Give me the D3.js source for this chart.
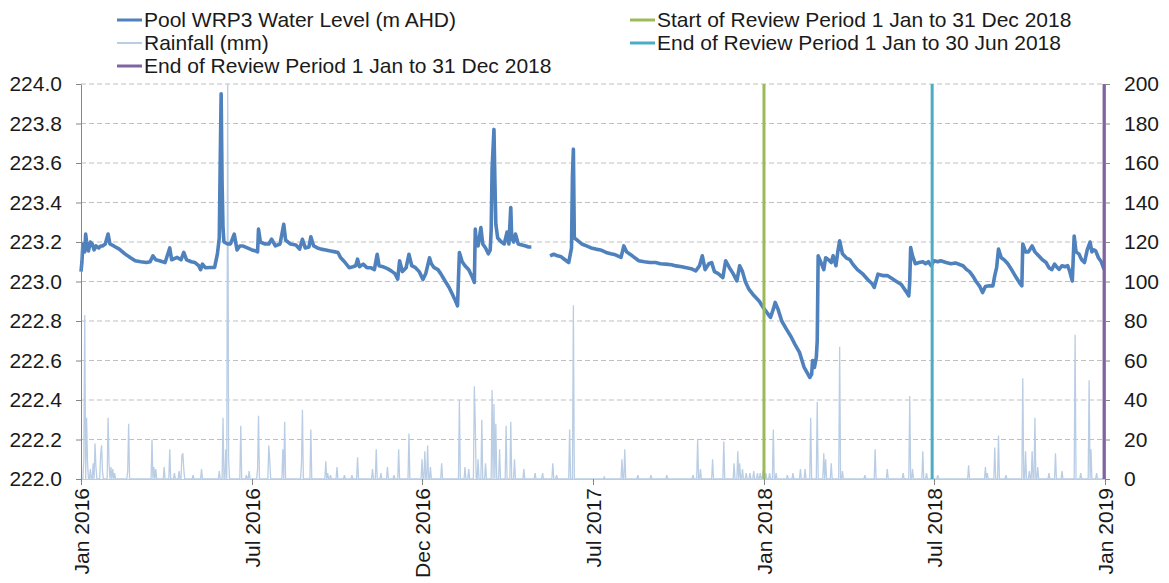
<!DOCTYPE html>
<html><head><meta charset="utf-8">
<script src="https://cdn.jsdelivr.net/npm/d3@7"></script>
<style>
body{margin:0;background:#fff;}
svg{display:block;font-family:"Liberation Sans",Arial,sans-serif;}
</style>
</head><body>
<svg id="chart" width="1169" height="583"></svg>
<script>
// ---------------- DATA ----------------
const startDate = "2016-01-01";           // day 0 of the record
const endDate = "2019-01-01";

// Pool WRP3 water level (m AHD): days since 1 Jan 2016 and values (null = gap in record)
const levelDays = [
0,1,2,4,5,6,8,10,12,14,16,19,21,23,26,29,31,35,41,47,53,58,64,70,74,77,80,84,90,95,97,103,107,110,113,118,122,126,128,130,133,138,143,146,148,149,150,151,152,153,157,160,164,167,170,173,178,183,187,
189,190,192,197,201,204,208,213,217,219,224,230,234,237,240,244,246,249,253,257,262,267,272,275,278,282,287,291,294,296,298,302,306,310,314,317,319,323,328,332,336,339,341,344,348,351,354,358,362,366,369,373,
375,378,382,385,390,394,398,401,403,405,408,411,415,419,421,422,423,425,428,430,433,436,438,439,440,442,443,444,446,450,453,456,458,460,461,463,465,468,472,476,479,482,490,
502,506,510,514,518,522,525,526,527,528,531,536,541,546,551,
556,562,567,572,578,581,584,590,597,603,609,615,620,626,632,637,643,648,653,658,662,665,668,672,675,678,682,687,690,694,698,702,705,708,711,715,720,726,730,733,738,
741,743,746,750,755,760,764,769,774,777,780,782,783,785,787,788,789,792,795,797,800,803,805,808,810,812,815,819,823,826,831,837,842,847,849,853,858,863,868,872,878,883,886,887,888,890,893,897,901,904,907,910,913,917,920,
926,931,936,941,944,948,951,955,958,962,965,968,972,976,978,980,982,985,988,992,996,1001,1005,1007,1008,1011,1014,1018,1021,1025,1029,1033,1036,1039,1042,1045,1047,1050,1053,1056,1058,1061,1063,1065,1068,1071,1074,1077,1080,1082,1084,1086,1089,1092,1095
];
const levelValues = [
223.05,223.10,223.19,223.15,223.24,223.20,223.155,223.20,223.19,223.16,223.18,223.17,223.18,223.18,223.19,223.24,223.19,223.18,223.164,223.14,223.12,223.105,223.10,223.096,223.10,223.13,223.11,223.105,223.096,223.17,223.11,223.122,223.11,223.147,223.11,223.10,223.096,223.08,223.06,223.088,223.07,223.071,223.071,223.14,223.22,223.60,223.95,223.50,223.27,223.20,223.19,223.19,223.24,223.16,223.18,223.18,223.17,223.16,223.155,
223.15,223.265,223.20,223.19,223.19,223.214,223.18,223.19,223.29,223.21,223.19,223.185,223.164,223.214,223.17,223.175,223.226,223.18,223.17,223.164,223.16,223.155,223.15,223.147,223.12,223.10,223.07,223.075,223.08,223.113,223.075,223.088,223.07,223.07,223.06,223.138,223.08,223.075,223.065,223.054,223.04,223.012,223.105,223.05,223.07,223.138,223.08,223.07,223.05,223.01,223.04,223.12,
223.09,223.07,223.06,223.04,223.00,222.97,222.93,222.90,222.877,223.147,223.10,223.08,223.06,223.02,222.995,223.265,223.20,223.18,223.273,223.19,223.17,223.14,223.16,223.257,223.57,223.77,223.51,223.29,223.22,223.20,223.19,223.25,223.19,223.375,223.22,223.20,223.24,223.19,223.185,223.18,223.175,223.175,null,
223.13,223.138,223.13,223.125,223.11,223.096,223.17,223.535,223.67,223.22,223.21,223.19,223.18,223.17,223.164,
223.16,223.147,223.14,223.135,223.122,223.18,223.15,223.13,223.105,223.10,223.096,223.096,223.09,223.088,223.085,223.079,223.075,223.07,223.065,223.054,223.08,223.13,223.06,223.09,223.096,223.05,223.04,223.02,223.105,223.07,223.04,223.003,223.08,223.05,223.00,222.96,222.93,222.90,222.87,222.85,222.818,
222.86,222.894,222.86,222.80,222.759,222.72,222.683,222.641,222.565,222.54,222.514,222.53,222.60,222.565,222.615,222.70,223.13,223.096,223.06,223.12,223.11,223.096,223.13,223.08,223.15,223.206,223.14,223.12,223.11,223.088,223.06,223.037,223.01,222.987,222.97,223.037,223.03,223.03,223.015,223.003,222.985,222.95,222.927,223.00,223.172,223.13,223.09,223.096,223.10,223.09,223.10,223.08,223.105,223.10,223.105,
223.096,223.09,223.094,223.085,223.08,223.06,223.05,223.025,223.00,222.975,222.944,222.975,222.978,222.978,223.03,223.07,223.164,223.12,223.11,223.09,223.06,223.02,222.99,222.978,223.19,223.15,223.15,223.18,223.15,223.13,223.11,223.096,223.07,223.06,223.088,223.07,223.062,223.08,223.075,223.08,223.055,223.003,223.23,223.15,223.14,223.11,223.096,223.16,223.20,223.15,223.16,223.155,223.12,223.10,223.062
];

// Rainfall (mm): days since 1 Jan 2016 with visible rain; all other days read as 0
const rainDays = [
3,4,6,7,10,13,15,16,21,22,23,29,30,32,34,36,50,51,76,78,80,89,95,100,105,108,109,110,120,129,148,152,155,157,158,171,177,180,
189,190,201,202,216,218,236,237,246,262,264,267,274,282,290,296,312,316,321,328,335,340,351,365,368,371,
374,386,405,411,415,421,422,425,429,433,440,442,444,448,455,460,464,474,486,494,505,509,523,527,
560,579,582,596,610,627,655,660,663,676,688,699,703,705,708,712,716,720,724,727,730,733,
737,741,744,756,762,770,775,781,788,795,797,803,812,815,839,850,863,880,887,890,901,905,
917,950,968,970,978,982,990,1008,1011,1015,1018,1021,1024,1036,1043,1050,1064,1070,1079,1081,1087
];
const rainValues = [
10,83,31,8,5,8,18,6,12,17,4,31,8,6,5,3,4,28,20,6,5,6,15,3,4,12,13,5,2,5,4,31,15,200,10,27,2,4,
5,32,17,10,15,29,8,35,25,9,3,2,6,2,2,11,5,15,3,6,2,15,23,10,14,17,
6,8,40,6,5,47,28,10,30,8,45,38,28,15,27,29,10,5,3,3,8,2,25,88,
1,10,15,2,2,2,2,20,5,10,19,8,14,8,5,3,3,4,3,3,4,3,
3,25,3,2,3,5,5,31,39,13,10,8,67,4,2,15,5,3,42,5,14,3,
2,7,6,3,16,22,2,51,14,4,14,31,6,3,13,4,73,3,50,15,3
];

// Review-period markers
const reviewNames = ["Start of Review Period 1 Jan to 31 Dec 2018", "End of Review Period 1 Jan to 30 Jun 2018", "End of Review Period 1 Jan to 31 Dec 2018"];
const reviewDates = ["2018-01-01", "2018-06-30", "2018-12-31"];

// Axes
const xTickDays = [0, 183, 365, 548, 731, 913, 1096];
const xTickLabels = ["Jan 2016", "Jul 2016", "Dec 2016", "Jul 2017", "Jan 2018", "Jul 2018", "Jan 2019"];
const levelTicks = [222.0, 222.2, 222.4, 222.6, 222.8, 223.0, 223.2, 223.4, 223.6, 223.8, 224.0];
const rainTicks = [0, 20, 40, 60, 80, 100, 120, 140, 160, 180, 200];

// ---------------- STYLE ----------------
const C_LEVEL = "#4F81BD", C_RAIN = "#B9CDE5";
const reviewColors = ["#9BBB59", "#4BACC6", "#8064A2"];
const FONT = 21;
const L = 81, R = 1105, T = 84, B = 479;

const svg = d3.select("#chart");
const parse = d3.utcParse("%Y-%m-%d");
const d0 = parse(startDate);
const dayToDate = d => d3.utcDay.offset(d0, d);

const x = d3.scaleUtc().domain([d0, parse(endDate)]).range([L, R]);
const yL = d3.scaleLinear().domain([222, 224]).range([B, T]);
const yR = d3.scaleLinear().domain([0, 200]).range([B, T]);

// gridlines
svg.append("g").selectAll("line").data(levelTicks.filter(v => v > 222)).join("line")
  .attr("x1", L).attr("x2", R).attr("y1", d => yL(d)).attr("y2", d => yL(d))
  .attr("stroke", "#BFBFBF").attr("stroke-width", 1).attr("stroke-dasharray", "5,3");

// rainfall daily series
const rainMap = new Map(rainDays.map((d, i) => [d, rainValues[i]]));
const totalDays = d3.utcDay.count(d0, parse(endDate));
const rainSeries = d3.range(0, totalDays).map(d => ({ date: dayToDate(d), v: rainMap.get(d) || 0 }));

svg.append("path").datum(rainSeries)
  .attr("fill", "none").attr("stroke", C_RAIN).attr("stroke-width", 1.3)
  .attr("d", d3.line().x(d => x(d.date)).y(d => yR(Math.min(d.v, 200))));

// water level
const levelSeries = levelDays.map((d, i) => ({ date: dayToDate(d), v: levelValues[i] }));
svg.append("path").datum(levelSeries)
  .attr("fill", "none").attr("stroke", C_LEVEL).attr("stroke-width", 3.6)
  .attr("stroke-linejoin", "round")
  .attr("d", d3.line().defined(d => d.v != null).x(d => x(d.date)).y(d => yL(d.v)));

// review lines
svg.append("g").selectAll("line").data(reviewDates).join("line")
  .attr("x1", d => x(parse(d))).attr("x2", d => x(parse(d)))
  .attr("y1", T).attr("y2", B)
  .attr("stroke", (d, i) => reviewColors[i]).attr("stroke-width", 3);

// axes
function styleAxis(g) {
  g.select(".domain").attr("stroke", "#868686");
  g.selectAll(".tick line").attr("stroke", "#868686");
  g.selectAll("text").attr("font-size", FONT).attr("fill", "#1a1a1a").attr("font-family", '"Liberation Sans",Arial,sans-serif');
}
svg.append("g").attr("transform", `translate(${L},0)`)
  .call(d3.axisLeft(yL).tickValues(levelTicks).tickFormat(d3.format(".1f")).tickSize(5).tickPadding(14).tickSizeOuter(0))
  .call(styleAxis);
svg.append("g").attr("transform", `translate(${R},0)`)
  .call(d3.axisRight(yR).tickValues(rainTicks).tickSize(5).tickPadding(14).tickSizeOuter(0))
  .call(styleAxis);
const xa = svg.append("g").attr("transform", `translate(0,${B})`)
  .call(d3.axisBottom(x).tickValues(xTickDays.map(dayToDate)).tickFormat((d, i) => xTickLabels[i]).tickSize(6).tickSizeOuter(0))
  .call(styleAxis);
xa.select(".domain").attr("stroke", C_RAIN);
xa.selectAll("text").attr("text-anchor", "end").attr("transform", "rotate(-90)")
  .attr("x", -9).attr("y", 0).attr("dy", "0.35em");

// legend
const legendItems = [
  { name: "Pool WRP3 Water Level (m AHD)", color: C_LEVEL, w: 3, col: 0, row: 0 },
  { name: "Rainfall (mm)", color: C_RAIN, w: 2, col: 0, row: 1 },
  { name: reviewNames[2], color: reviewColors[2], w: 3, col: 0, row: 2 },
  { name: reviewNames[0], color: reviewColors[0], w: 3, col: 1, row: 0 },
  { name: reviewNames[1], color: reviewColors[1], w: 3, col: 1, row: 1 }
];
const colX = [117, 630], rowY = [20, 43, 66];
const lg = svg.append("g").selectAll("g").data(legendItems).join("g")
  .attr("transform", d => `translate(${colX[d.col]},${rowY[d.row]})`);
lg.append("line").attr("x1", 0).attr("x2", 25).attr("stroke", d => d.color).attr("stroke-width", d => d.w);
lg.append("text").attr("x", 27).attr("dy", "0.35em").attr("font-size", FONT).attr("fill", "#1a1a1a").text(d => d.name);
</script>
</body></html>
